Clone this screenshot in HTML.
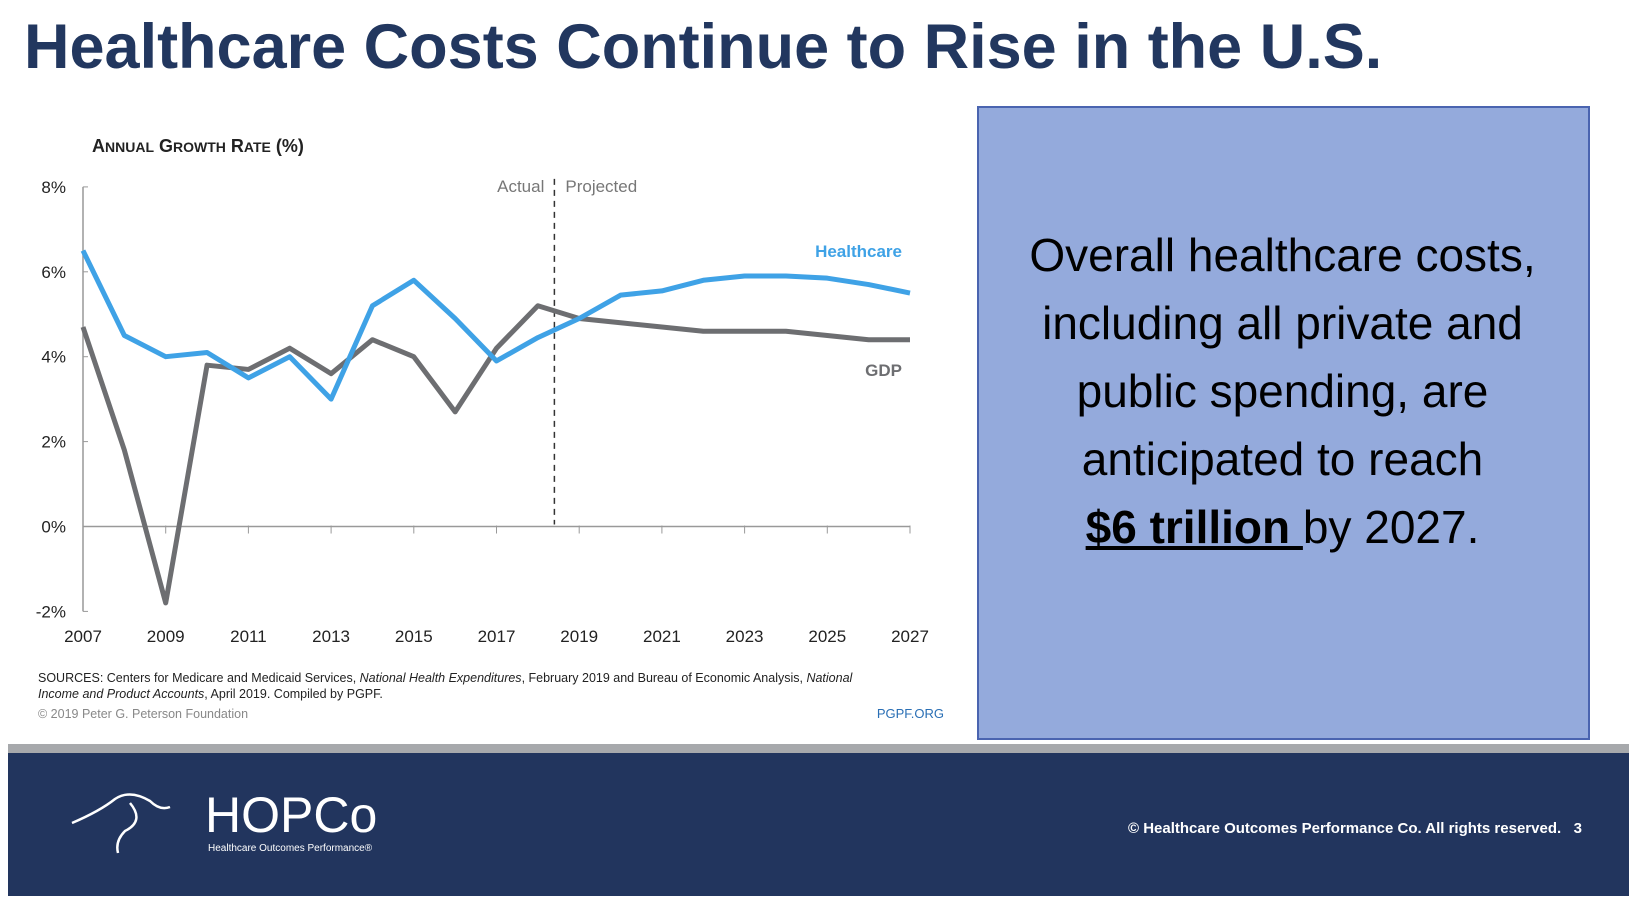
<!DOCTYPE html>
<html><head><meta charset="utf-8"><style>
body{margin:0;width:1636px;height:920px;background:#fff;position:relative;overflow:hidden;font-family:"Liberation Sans",sans-serif}
.a{position:absolute;white-space:nowrap}
</style></head><body>
<div class="a" style="left:24px;top:11px;font-size:63px;font-weight:bold;color:#22375f">Healthcare Costs Continue to Rise in the U.S.</div>
<svg class="a" style="left:0;top:0" width="960" height="740" id="chart"></svg>
<div class="a" style="left:977px;top:106px;width:609px;height:630px;background:#94aadc;border:2px solid #4a64b0;"></div>
<div class="a" style="left:976px;top:221px;width:613px;text-align:center;font-size:46px;line-height:68px;color:#000;white-space:normal">Overall healthcare costs,<br>including all private and<br>public spending, are<br>anticipated to reach<br><b><u>$6 trillion </u></b>by 2027.</div>
<div class="a" style="left:8px;top:744px;width:1621px;height:9px;background:#a7a9ac"></div>
<div class="a" style="left:8px;top:753px;width:1621px;height:143px;background:#22355e"></div>
<svg class="a" style="left:70px;top:791px" width="110" height="65"><path d="M2 32 Q30 20 45 8 Q60 -2 80 10 Q90 20 100 16 M60 12 Q75 30 55 40 Q45 50 48 62" stroke="#fff" stroke-width="2.5" fill="none"/></svg>
<div class="a" style="left:205px;top:786px;font-size:50px;color:#fff">HOPCo</div>
<div class="a" style="left:208px;top:843px;font-size:10px;color:#fff">Healthcare Outcomes Performance®</div>
<div class="a" style="right:54px;top:820px;font-size:15px;font-weight:bold;color:#fff">© Healthcare Outcomes Performance Co. All rights reserved. &nbsp; 3</div>
<script>
const years=[2007,2008,2009,2010,2011,2012,2013,2014,2015,2016,2017,2018,2019,2020,2021,2022,2023,2024,2025,2026,2027];
const healthcare=[6.5,4.5,4.0,4.1,3.5,4.0,3.0,5.2,5.8,4.9,3.9,4.45,4.9,5.45,5.55,5.8,5.9,5.9,5.85,5.7,5.5];
const gdp=[4.7,1.8,-1.8,3.8,3.7,4.2,3.6,4.4,4.0,2.7,4.2,5.2,4.9,4.8,4.7,4.6,4.6,4.6,4.5,4.4,4.4];
const yTicks=[8,6,4,2,0,-2];
const xTicks=[2007,2009,2011,2013,2015,2017,2019,2021,2023,2025,2027];
const divider=2018.4;
const svg=document.getElementById('chart');const NS='http://www.w3.org/2000/svg';
const X=v=>83+(v-2007)*(910-83)/20, Y=v=>526.5-v*42.45;
function el(t,a,p){const e=document.createElementNS(NS,t);for(const k in a)e.setAttribute(k,a[k]);(p||svg).appendChild(e);return e;}
let t=el('text',{x:92,y:152,'font-size':18,'font-weight':'bold',fill:'#222'});

t.innerHTML='A<tspan font-size="14">NNUAL</tspan> G<tspan font-size="14">ROWTH</tspan> R<tspan font-size="14">ATE</tspan> (%)';
let ax=el('line',{x1:X(2007),x2:X(2007),y1:Y(8),y2:Y(-2),stroke:'#999','stroke-width':1.5});

let zl=el('line',{x1:X(2007),x2:X(2027),y1:Y(0),y2:Y(0),stroke:'#999','stroke-width':1.5});

yTicks.forEach(v=>{const l=el('text',{x:66,y:Y(v)+6,'text-anchor':'end','font-size':17,fill:'#222'});l.textContent=v+'%';

const k=el('line',{x1:X(2007),x2:X(2007)+5,y1:Y(v),y2:Y(v),stroke:'#999'});});
xTicks.forEach(v=>{const l=el('text',{x:X(v),y:642,'text-anchor':'middle','font-size':17,fill:'#222'});l.textContent=v;

const k=el('line',{x1:X(v),x2:X(v),y1:Y(0)-1,y2:Y(0)+7,stroke:'#999'});});
let d=el('line',{x1:X(divider),x2:X(divider),y1:Y(8)-8,y2:Y(0)-2,stroke:'#333','stroke-dasharray':'6,5','stroke-width':1.5});

let a1=el('text',{x:X(divider)-10,y:192,'text-anchor':'end','font-size':17,fill:'#777'});a1.textContent='Actual';
let a2=el('text',{x:X(divider)+11,y:192,'font-size':17,fill:'#777'});a2.textContent='Projected';
function line(vals,c,name){const p=el('polyline',{points:vals.map((v,i)=>X(years[i])+','+Y(v)).join(' '),fill:'none',stroke:c,'stroke-width':5,'stroke-linejoin':'round'});}
line(gdp,'#6d6e71','gdp-line');line(healthcare,'#3fa2e6','healthcare-line');
let h=el('text',{x:902,y:257,'text-anchor':'end','font-size':17,'font-weight':'bold',fill:'#3fa2e6'});h.textContent='Healthcare';
let g=el('text',{x:902,y:376,'text-anchor':'end','font-size':17,'font-weight':'bold',fill:'#6d6e71'});g.textContent='GDP';
let s1=el('text',{x:38,y:682,'font-size':12.5,fill:'#222'});s1.innerHTML='SOURCES: Centers for Medicare and Medicaid Services, <tspan font-style="italic">National Health Expenditures</tspan>, February 2019 and Bureau of Economic Analysis, <tspan font-style="italic">National</tspan>';

let s2=el('text',{x:38,y:698,'font-size':12.5,fill:'#222'});s2.innerHTML='<tspan font-style="italic">Income and Product Accounts</tspan>, April 2019. Compiled by PGPF.';

let c=el('text',{x:38,y:718,'font-size':12.5,fill:'#888'});c.textContent='© 2019 Peter G. Peterson Foundation';
let pg=el('text',{x:944,y:718,'text-anchor':'end','font-size':13,fill:'#2a6fb5'});pg.textContent='PGPF.ORG';
</script>
</body></html>
